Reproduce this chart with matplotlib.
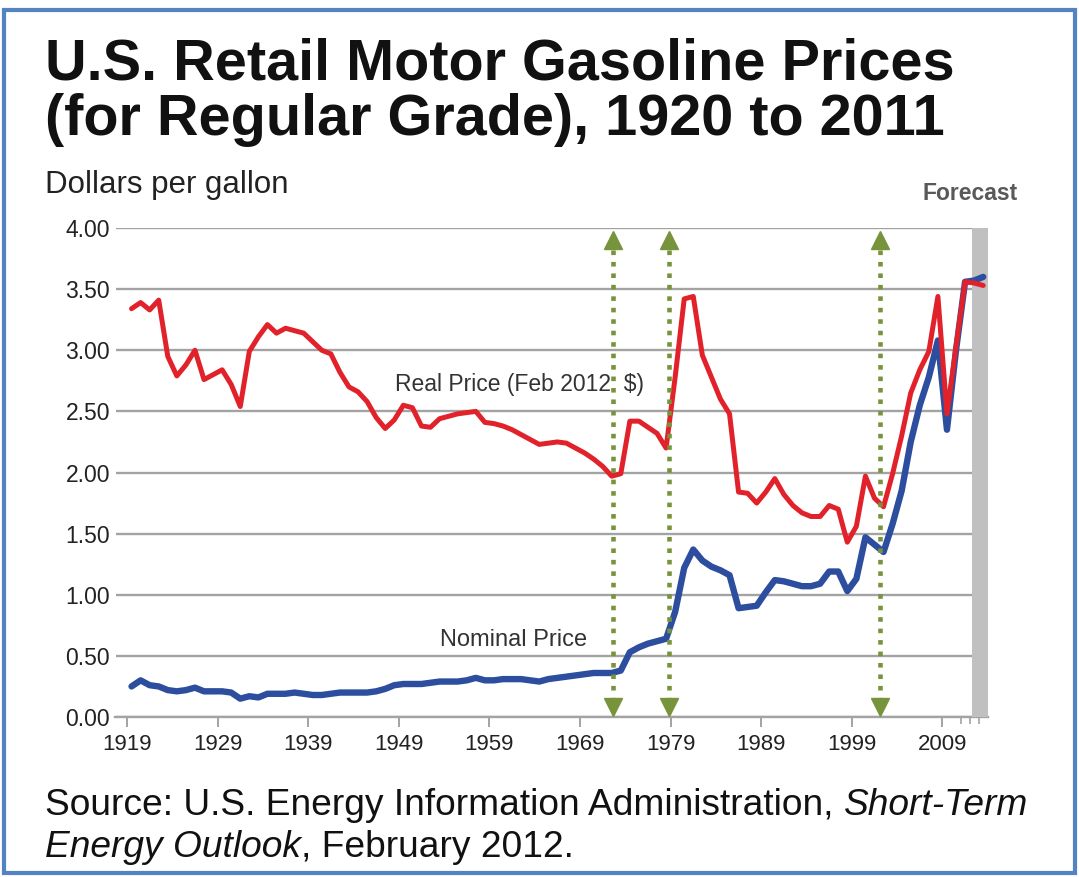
import numpy as np
import matplotlib
matplotlib.use("Agg")
import matplotlib.pyplot as plt
from matplotlib.patches import Rectangle

plt.rcParams['font.family'] = ['Liberation Sans', 'DejaVu Sans']

# ---------------- data ----------------
years = list(range(1919, 2014))

real_price = [
    3.34, 3.39, 3.33, 3.41, 2.95, 2.79, 2.88, 3.00, 2.76, 2.80,   # 1919-1928
    2.84, 2.72, 2.54, 2.99, 3.11, 3.21, 3.14, 3.18, 3.16, 3.14,   # 1929-1938
    3.07, 3.00, 2.97, 2.82, 2.70, 2.66, 2.58, 2.45, 2.36, 2.43,   # 1939-1948
    2.55, 2.53, 2.38, 2.37, 2.44, 2.46, 2.48, 2.49, 2.50, 2.41,   # 1949-1958
    2.40, 2.38, 2.35, 2.31, 2.27, 2.23, 2.24, 2.25, 2.24, 2.20,   # 1959-1968
    2.16, 2.11, 2.05, 1.97, 1.99, 2.42, 2.42, 2.37, 2.32, 2.20,   # 1969-1978
    2.78, 3.42, 3.44, 2.96, 2.78, 2.60, 2.48, 1.84, 1.83, 1.75,   # 1979-1988
    1.84, 1.95, 1.82, 1.73, 1.67, 1.64, 1.64, 1.73, 1.70, 1.43,   # 1989-1998
    1.56, 1.97, 1.79, 1.72, 1.99, 2.30, 2.65, 2.84, 2.99, 3.44,   # 1999-2008
    2.48, 3.03, 3.56, 3.55, 3.53,                                 # 2009-2013
]

nominal_price = [
    0.25, 0.30, 0.26, 0.25, 0.22, 0.21, 0.22, 0.24, 0.21, 0.21,   # 1919-1928
    0.21, 0.20, 0.15, 0.17, 0.16, 0.19, 0.19, 0.19, 0.20, 0.19,   # 1929-1938
    0.18, 0.18, 0.19, 0.20, 0.20, 0.20, 0.20, 0.21, 0.23, 0.26,   # 1939-1948
    0.27, 0.27, 0.27, 0.28, 0.29, 0.29, 0.29, 0.30, 0.32, 0.30,   # 1949-1958
    0.30, 0.31, 0.31, 0.31, 0.30, 0.29, 0.31, 0.32, 0.33, 0.34,   # 1959-1968
    0.35, 0.36, 0.36, 0.36, 0.38, 0.53, 0.57, 0.60, 0.62, 0.64,   # 1969-1978
    0.86, 1.22, 1.37, 1.28, 1.23, 1.20, 1.16, 0.89, 0.90, 0.91,   # 1979-1988
    1.02, 1.12, 1.11, 1.09, 1.07, 1.07, 1.09, 1.19, 1.19, 1.03,   # 1989-1998
    1.13, 1.47, 1.41, 1.35, 1.58, 1.85, 2.25, 2.55, 2.78, 3.08,   # 1999-2008
    2.35, 3.00, 3.56, 3.57, 3.60,                                 # 2009-2013
]

x_tick_years = [1919, 1929, 1939, 1949, 1959, 1969, 1979, 1989, 1999, 2009]
x_minor_years = [2011, 2012, 2013]
y_ticks = [0.0, 0.5, 1.0, 1.5, 2.0, 2.5, 3.0, 3.5, 4.0]

# price-shock markers (dotted double arrows) and forecast period
event_years = [1972.6, 1978.8, 2002.1]
forecast_start = 2012.25

# ---------------- styles ----------------
RED = '#e2222b'
BLUE = '#2d4e9f'
GREEN = '#77933c'
GRID = '#a3a3a3'
BORDER = '#5383c0'

W, H = 1079, 877
fig = plt.figure(figsize=(W / 100, H / 100), dpi=100)
fig.patch.set_facecolor('white')

left_px, right_px, top_px, bot_px = 115.5, 988, 228, 717
ax = fig.add_axes([left_px / W, 1 - bot_px / H, (right_px - left_px) / W, (bot_px - top_px) / H])

# annual averages drawn at mid-year
x = np.array(years) + 0.5

ax.set_xlim(1917.73, 2014.03)
ax.set_ylim(0, 4.0)

# forecast band
ax.axvspan(forecast_start, 2014.03, color='#c0c0c0', zorder=3, lw=0)

# grid
ax.set_yticks(y_ticks)
ax.set_yticklabels([f'{v:.2f}' for v in y_ticks])
ax.yaxis.grid(True, color=GRID, lw=1.7, zorder=1)
ax.set_axisbelow(True)

# lines
ax.plot(x, nominal_price, color=BLUE, lw=4.6, solid_joinstyle='round', solid_capstyle='round', zorder=4)
ax.plot(x, real_price, color=RED, lw=3.6, solid_joinstyle='round', solid_capstyle='round', zorder=5)

# event arrows
arrow_top, arrow_bot = 3.90, 0.08
for ex in event_years:
    ax.plot([ex, ex], [3.82, 0.16], color=GREEN, lw=3.3, linestyle=(0, (1.0, 1.5)),
            dash_capstyle='butt', zorder=6)
    ax.plot([ex], [arrow_top], marker='^', ms=12.5, color=GREEN, mec=GREEN, zorder=6)
    ax.plot([ex], [arrow_bot], marker='v', ms=12.5, color=GREEN, mec=GREEN, zorder=6)

# spines / ticks
for s in ['top', 'right', 'left']:
    ax.spines[s].set_visible(False)
ax.spines['bottom'].set_color(GRID)
ax.spines['bottom'].set_linewidth(1.7)
ax.spines['bottom'].set_zorder(2)

ax.set_xticks(x_tick_years)
ax.set_xticklabels([str(y) for y in x_tick_years])
ax.set_xticks(x_minor_years, minor=True)
ax.tick_params(axis='x', which='major', length=7, width=1.4, color=GRID, pad=5,
               labelsize=16, labelcolor='#222222')
ax.tick_params(axis='x', which='minor', length=5, width=1.2, color=GRID)
ax.tick_params(axis='y', length=0, pad=4, labelsize=16.5, labelcolor='#222222')

# in-chart labels
ax.text(1948.6, 2.67, 'Real Price (Feb 2012  $)', fontsize=16.5, color='#333333',
        ha='left', va='baseline', zorder=7)
ax.text(1953.5, 0.58, 'Nominal Price', fontsize=17, color='#333333',
        ha='left', va='baseline', zorder=7)

# titles and notes
fig.text(45 / W, 1 - 80 / H, 'U.S. Retail Motor Gasoline Prices', fontsize=41.5,
         fontweight='bold', ha='left', va='baseline', color='#111111')
fig.text(45 / W, 1 - 135 / H, '(for Regular Grade), 1920 to 2011', fontsize=41.5,
         fontweight='bold', ha='left', va='baseline', color='#111111')
fig.text(45 / W, 1 - 193 / H, 'Dollars per gallon', fontsize=22.5, ha='left',
         va='baseline', color='#222222')
fig.text(1018 / W, 1 - 200 / H, 'Forecast', fontsize=16.5, fontweight='bold',
         ha='right', va='baseline', color='#595959')

FS_SRC = 26.7
src1 = fig.text(45 / W, 1 - 815 / H, 'Source: U.S. Energy Information Administration, ',
                fontsize=FS_SRC, ha='left', va='baseline', color='#111111')
fig.canvas.draw()
bb = src1.get_window_extent()
fig.text(bb.x1 / W, 1 - 815 / H, 'Short-Term', fontsize=FS_SRC, style='italic',
         ha='left', va='baseline', color='#111111')
src2 = fig.text(45 / W, 1 - 857 / H, 'Energy Outlook', fontsize=FS_SRC, style='italic',
                ha='left', va='baseline', color='#111111')
fig.canvas.draw()
bb2 = src2.get_window_extent()
fig.text(bb2.x1 / W, 1 - 857 / H, ', February 2012.', fontsize=FS_SRC,
         ha='left', va='baseline', color='#111111')

# outer frame
fig.patches.append(Rectangle((4 / W, 4 / H), (W - 8) / W, (H - 14) / H, transform=fig.transFigure,
                             fill=False, edgecolor=BORDER, lw=3, zorder=10))

fig.savefig('out.png', dpi=100, facecolor='white')
